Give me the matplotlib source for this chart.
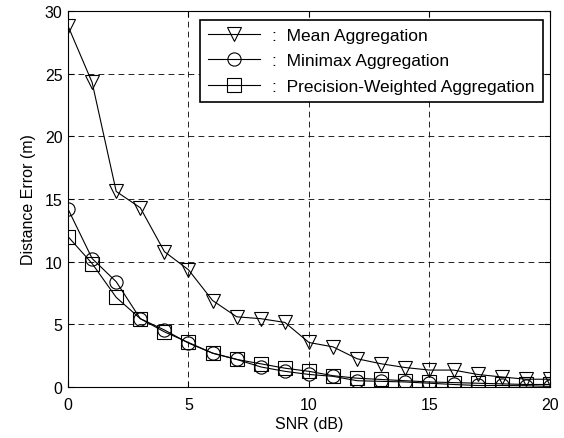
import numpy as np
import matplotlib
matplotlib.use('Agg')
import matplotlib.pyplot as plt

plt.rcParams['font.family'] = ['Liberation Sans', 'DejaVu Sans']

# values
snr = list(range(0, 21))
mean_agg = [28.8, 24.3, 15.6, 14.3, 10.8, 9.35, 6.9, 5.6, 5.45, 5.15, 3.55,
            3.2, 2.25, 1.85, 1.55, 1.35, 1.35, 1.0, 0.8, 0.62, 0.62]
minimax_agg = [14.2, 10.25, 8.4, 5.45, 4.55, 3.5, 2.7, 2.2, 1.6, 1.25, 1.0,
               0.85, 0.5, 0.45, 0.4, 0.3, 0.2, 0.12, 0.12, 0.1, 0.05]
precision_agg = [12.0, 9.85, 7.15, 5.45, 4.4, 3.55, 2.7, 2.2, 1.85, 1.5, 1.25,
                 0.9, 0.7, 0.6, 0.5, 0.4, 0.35, 0.3, 0.25, 0.2, 0.2]
labels = [':  Mean Aggregation', ':  Minimax Aggregation',
          ':  Precision-Weighted Aggregation']

fig = plt.figure(figsize=(5.64, 4.39), dpi=100)
ax = fig.add_axes([0.1206, 0.1162, 0.8544, 0.8565])

style = dict(color='black', linewidth=0.8, markerfacecolor='none',
             markeredgecolor='black', markersize=9.5, markeredgewidth=0.8)
ax.plot(snr, mean_agg, marker='v', label=labels[0], **style)
ax.plot(snr, minimax_agg, marker='o', label=labels[1], **style)
ax.plot(snr, precision_agg, marker='s', label=labels[2], **style)

ax.set_xlim(0, 20)
ax.set_ylim(0, 30)
ax.set_xticks([0, 5, 10, 15, 20])
ax.set_yticks([0, 5, 10, 15, 20, 25, 30])
ax.grid(True, color='black', linestyle=(0, (7, 5)), linewidth=0.6)
ax.tick_params(direction='in', top=True, right=True, labelsize=11.5, length=4)
ax.tick_params(axis='x', pad=7)
ax.tick_params(axis='y', pad=4)
for s in ax.spines.values():
    s.set_linewidth(0.8)

ax.set_xlabel('SNR (dB)', fontsize=11.5, labelpad=3)
ax.set_ylabel('Distance Error (m)', fontsize=11.5, labelpad=6)

leg = ax.legend(loc='upper right', fontsize=12.5, frameon=True, fancybox=False,
                edgecolor='black', framealpha=1, handlelength=3.0,
                handletextpad=0.7, borderpad=0.45, labelspacing=0.6,
                borderaxespad=0, bbox_to_anchor=(0.985, 0.977))
leg.get_frame().set_linewidth(1.2)

plt.savefig('out.png', dpi=100)
